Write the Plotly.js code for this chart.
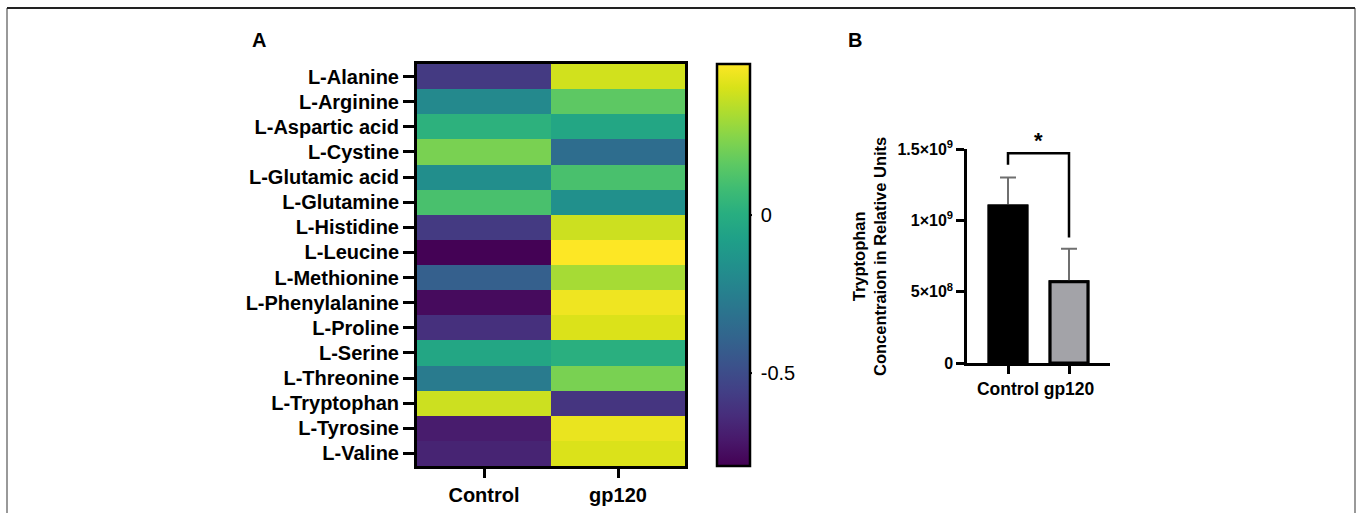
<!DOCTYPE html>
<html>
<head>
<meta charset="utf-8">
<script src="https://cdn.plot.ly/plotly-3.0.1.min.js"></script>
<style>
  html, body { margin: 0; padding: 0; background: #ffffff; }
  #chart { width: 1360px; height: 513px; }
</style>
</head>
<body>
<div id="chart"></div>
<script>
// ---------- Data ----------
const aminoAcids = [
  "L-Alanine", "L-Arginine", "L-Aspartic acid", "L-Cystine", "L-Glutamic acid",
  "L-Glutamine", "L-Histidine", "L-Leucine", "L-Methionine", "L-Phenylalanine",
  "L-Proline", "L-Serine", "L-Threonine", "L-Tryptophan", "L-Tyrosine", "L-Valine"
];
const heatGroups = ["Control", "gp120"];
const controlValues = [-0.58, -0.20, 0.02, 0.22, -0.17, 0.11, -0.58, -0.79, -0.41, -0.76, -0.62, -0.04, -0.27, 0.38, -0.70, -0.67];
const gp120Values   = [0.39, 0.16, -0.04, -0.34, 0.11, -0.16, 0.38, 0.48, 0.31, 0.45, 0.41, 0.01, 0.22, -0.60, 0.44, 0.41];
const colorbarTickVals = [-0.5, 0];
const colorbarTickText = ["-0.5", "0"];

const barGroups = ["Control", "gp120"];
const barMeans  = [1.10e9, 0.57e9];
const barErrors = [0.20e9, 0.23e9];
const barTickVals = [0, 5e8, 1e9, 1.5e9];
const barTickText = ["0", "5×10<sup>8</sup>", "1×10<sup>9</sup>", "1.5×10<sup>9</sup>"];
const sigBracketY = [1.39e9, 1.47e9, 1.47e9, 0.88e9];
const sigStarY = 1.56e9;
const sigLabel = "*";

// ---------- Layout helpers ----------
const W = 1360, H = 513;
const px = v => v / W;
const py = v => 1 - v / H;
const FONT = "Liberation Sans, Arial, Helvetica, sans-serif";
const bold = (size) => ({ family: FONT, size: size, color: "#000", weight: 700 });

const ZMIN = -0.794, ZMAX = 0.478;
const heatDomX = [px(417), px(685)];
const heatDomY = [py(466), py(64)];
const cbX0 = px(717), cbThick = 33;
const barDomX = [px(967), px(1110)];
const barDomY = [py(363), py(149)];
const barRange = [0, 1.5e9];

const z = aminoAcids.map((_, i) => [controlValues[i], gp120Values[i]]);

const heat = {
  type: "heatmap",
  x: heatGroups,
  y: aminoAcids,
  z: z,
  xaxis: "x",
  yaxis: "y",
  colorscale: "Viridis",
  zmin: ZMIN,
  zmax: ZMAX,
  hoverinfo: "x+y+z",
  colorbar: {
    x: cbX0, xanchor: "left", xpad: 0,
    y: (heatDomY[0] + heatDomY[1]) / 2, yanchor: "middle", ypad: 0,
    len: 402, lenmode: "pixels",
    thickness: cbThick, thicknessmode: "pixels",
    outlinewidth: 2.5, outlinecolor: "#000",
    tickmode: "array", tickvals: colorbarTickVals, ticktext: colorbarTickText,
    ticks: "outside", ticklen: 6, tickwidth: 2, tickcolor: "rgba(0,0,0,0)",
    tickfont: { family: FONT, size: 20, color: "#000" }
  }
};

const barsBack = {
  type: "bar",
  x: barGroups,
  y: barMeans,
  xaxis: "x2",
  yaxis: "y2",
  width: 0.62,
  marker: { color: ["#000000", "#a3a3a8"], line: { color: "#000", width: 3 } },
  error_y: { type: "data", symmetric: false, array: barErrors, arrayminus: [0, 0],
             color: "#6f6f6f", thickness: 2, width: 8 },
  hoverinfo: "skip"
};
const barsFront = {
  type: "bar",
  x: barGroups,
  y: barMeans,
  xaxis: "x2",
  yaxis: "y2",
  width: 0.62,
  marker: { color: ["#000000", "#a3a3a8"], line: { color: "#000", width: 3 } },
  hoverinfo: "x+y"
};

const bracket = {
  type: "scatter",
  mode: "lines",
  x: [barGroups[0], barGroups[0], barGroups[1], barGroups[1]],
  y: sigBracketY,
  xaxis: "x2",
  yaxis: "y2",
  line: { color: "#000", width: 2.5 },
  cliponaxis: false,
  hoverinfo: "skip"
};

// colorbar tick marks drawn inside on both edges
const cbShapes = [];
colorbarTickVals.forEach(v => {
  const yy = heatDomY[0] + (v - ZMIN) / (ZMAX - ZMIN) * (heatDomY[1] - heatDomY[0]);
  const xl = cbX0, xr = cbX0 + cbThick / W + 2 / W;
  cbShapes.push({ type: "line", xref: "paper", yref: "paper", x0: xl, x1: xl + 6 / W, y0: yy, y1: yy,
                  line: { color: "#000", width: 2 } });
  cbShapes.push({ type: "line", xref: "paper", yref: "paper", x0: xr - 6 / W, x1: xr, y0: yy, y1: yy,
                  line: { color: "#000", width: 2 } });
});

const starPaperY = barDomY[0] + (sigStarY - barRange[0]) / (barRange[1] - barRange[0]) * (barDomY[1] - barDomY[0]);

const layout = {
  width: W, height: H,
  margin: { l: 0, r: 0, t: 0, b: 0 },
  paper_bgcolor: "#ffffff",
  plot_bgcolor: "#ffffff",
  showlegend: false,
  barmode: "overlay",
  font: { family: FONT, color: "#000" },
  xaxis: {
    domain: heatDomX,
    anchor: "y",
    showline: true, mirror: true, linecolor: "#000", linewidth: 3,
    ticks: "outside", ticklen: 9, tickwidth: 2.5, tickcolor: "#000",
    tickfont: bold(20),
    showgrid: false, zeroline: false, fixedrange: true
  },
  yaxis: {
    domain: heatDomY,
    anchor: "x",
    autorange: "reversed",
    showline: true, mirror: true, linecolor: "#000", linewidth: 3,
    ticks: "outside", ticklen: 11, tickwidth: 2.5, tickcolor: "#000",
    tickfont: bold(20),
    showgrid: false, zeroline: false, fixedrange: true
  },
  xaxis2: {
    domain: barDomX,
    anchor: "y2",
    type: "category",
    range: [-0.672, 1.672],
    showline: true, linecolor: "#000", linewidth: 2.5,
    ticks: "outside", ticklen: 8, tickwidth: 2.5, tickcolor: "#000",
    tickfont: bold(17.5),
    showgrid: false, zeroline: false, fixedrange: true
  },
  yaxis2: {
    domain: barDomY,
    anchor: "x2",
    range: barRange,
    showline: true, linecolor: "#000", linewidth: 2.5,
    ticks: "outside", ticklen: 8, tickwidth: 2.5, tickcolor: "#000",
    tickmode: "array", tickvals: barTickVals, ticktext: barTickText,
    tickfont: bold(16),
    showgrid: false, zeroline: false, fixedrange: true
  },
  annotations: [
    { xref: "paper", yref: "paper", x: px(259), y: py(40), text: "A", showarrow: false,
      xanchor: "center", yanchor: "middle", font: bold(20) },
    { xref: "paper", yref: "paper", x: px(855), y: py(40), text: "B", showarrow: false,
      xanchor: "center", yanchor: "middle", font: bold(20) },
    { xref: "paper", yref: "paper", x: px(869), y: py(256),
      text: "Tryptophan<br>Concentraion in Relative Units", textangle: -90,
      showarrow: false, xanchor: "center", yanchor: "middle", font: bold(16.5) },
    { xref: "x2", yref: "paper", x: 0.5, y: starPaperY, text: sigLabel, showarrow: false,
      xanchor: "center", yanchor: "middle", font: bold(22) }
  ],
  shapes: [
    { type: "line", xref: "paper", yref: "paper", x0: px(7), x1: px(7), y0: py(8), y1: -0.05,
      line: { color: "#555", width: 1.2 } },
    { type: "line", xref: "paper", yref: "paper", x0: px(1355), x1: px(1355), y0: py(8), y1: -0.05,
      line: { color: "#555", width: 1.2 } },
    { type: "line", xref: "paper", yref: "paper", x0: px(7), x1: px(1355), y0: py(8), y1: py(8),
      line: { color: "#222", width: 2 } }
  ].concat(cbShapes)
};

Plotly.newPlot("chart", [heat, barsBack, barsFront, bracket], layout, { displayModeBar: false });
</script>
</body>
</html>
